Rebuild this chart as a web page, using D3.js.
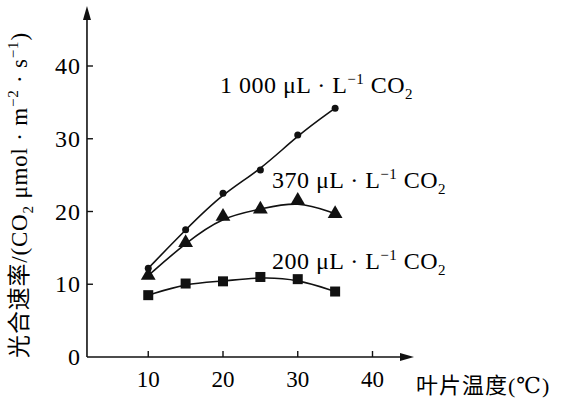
<!DOCTYPE html><html><head><meta charset="utf-8"><script src="https://cdn.jsdelivr.net/npm/d3@7"></script>
<style>body{margin:0;background:#fff}svg{font-family:"Liberation Serif","DejaVu Serif",serif}</style></head><body>
<svg id="c" width="574" height="401"></svg>
<script>
const temps=[10,15,20,25,30,35];
const s1000=[12.2,17.5,22.5,25.7,30.5,34.2];
const s370=[11.2,15.7,19.3,20.3,21.5,19.7];
const s200=[8.5,10.1,10.4,11.0,10.7,9.0];
const xTicks=[10,20,30,40], yTicks=[0,10,20,30,40];
const svg=d3.select("#c");
const x=d3.scaleLinear().domain([0,40]).range([73.5,372.5]);
const y=d3.scaleLinear().domain([0,40]).range([357,66]);
const ax=x(1)+6, k="#111";
svg.append("line").attr("x1",ax).attr("x2",ax).attr("y1",357).attr("y2",10).attr("stroke",k).attr("stroke-width",1.6);
svg.append("path").attr("d",`M${ax-4},20L${ax},6L${ax+4},20Z`).attr("fill",k);
svg.append("line").attr("x1",ax).attr("x2",408).attr("y1",357).attr("y2",357).attr("stroke",k).attr("stroke-width",1.6);
svg.append("path").attr("d",`M400,353L414,357L400,361Z`).attr("fill",k);
yTicks.forEach(t=>{if(t>0)svg.append("line").attr("x1",ax).attr("x2",ax+6).attr("y1",y(t)).attr("y2",y(t)).attr("stroke",k).attr("stroke-width",1.4);
 svg.append("text").attr("x",ax-6).attr("y",y(t)+8).attr("text-anchor","end").attr("font-size",24).attr("letter-spacing",1).text(t);});
xTicks.forEach(t=>{svg.append("line").attr("x1",x(t)).attr("x2",x(t)).attr("y1",357).attr("y2",351).attr("stroke",k).attr("stroke-width",1.4);
 svg.append("text").attr("x",x(t)).attr("y",387).attr("text-anchor","middle").attr("font-size",23).text(t);});
const line=d3.line().x((d,i)=>x(temps[i])).y(d=>y(d)).curve(d3.curveBasis);
[s1000,s370,s200].forEach(s=>svg.append("path").attr("d",line(s)).attr("fill","none").attr("stroke",k).attr("stroke-width",1.6));
s1000.forEach((d,i)=>svg.append("circle").attr("cx",x(temps[i])).attr("cy",y(d)).attr("r",3.5).attr("fill",k));
s370.forEach((d,i)=>svg.append("path").attr("transform",`translate(${x(temps[i])},${y(d)})`).attr("d",d3.symbol(d3.symbolTriangle,95)()).attr("fill",k));
s200.forEach((d,i)=>svg.append("rect").attr("x",x(temps[i])-5).attr("y",y(d)-5).attr("width",10).attr("height",10).attr("fill",k));
function lab(xx,yy,a){const t=svg.append("text").attr("x",xx).attr("y",yy).attr("font-size",24).attr("letter-spacing",0.5);
 t.append("tspan").text(a+"\u00a0μL  ·  L");t.append("tspan").attr("dy",-9).attr("font-size",15).text("−1");
 t.append("tspan").attr("dy",9).text(" CO");t.append("tspan").attr("dy",6).attr("font-size",15).text("2");}
lab(220,93,"1 000");lab(272,188,"370");lab(272,269,"200");
const yl=svg.append("text").attr("transform","translate(27,195) rotate(-90)").attr("text-anchor","middle").attr("font-size",23).attr("letter-spacing",0.8);
yl.append("tspan").attr("font-family","Noto Sans CJK SC").text("光合速率");
yl.append("tspan").text("/(CO");yl.append("tspan").attr("dy",6).attr("font-size",15).text("2");
yl.append("tspan").attr("dy",-6).text(" μmol · m");yl.append("tspan").attr("dy",-9).attr("font-size",15).text("−2");
yl.append("tspan").attr("dy",9).text(" · s");yl.append("tspan").attr("dy",-9).attr("font-size",15).text("−1");
yl.append("tspan").attr("dy",9).text(")");
const xl=svg.append("text").attr("x",416).attr("y",393).attr("font-size",22).attr("letter-spacing",1);
xl.append("tspan").attr("font-family","Noto Sans CJK SC").text("叶片温度");xl.append("tspan").text("(℃)");
</script></body></html>
